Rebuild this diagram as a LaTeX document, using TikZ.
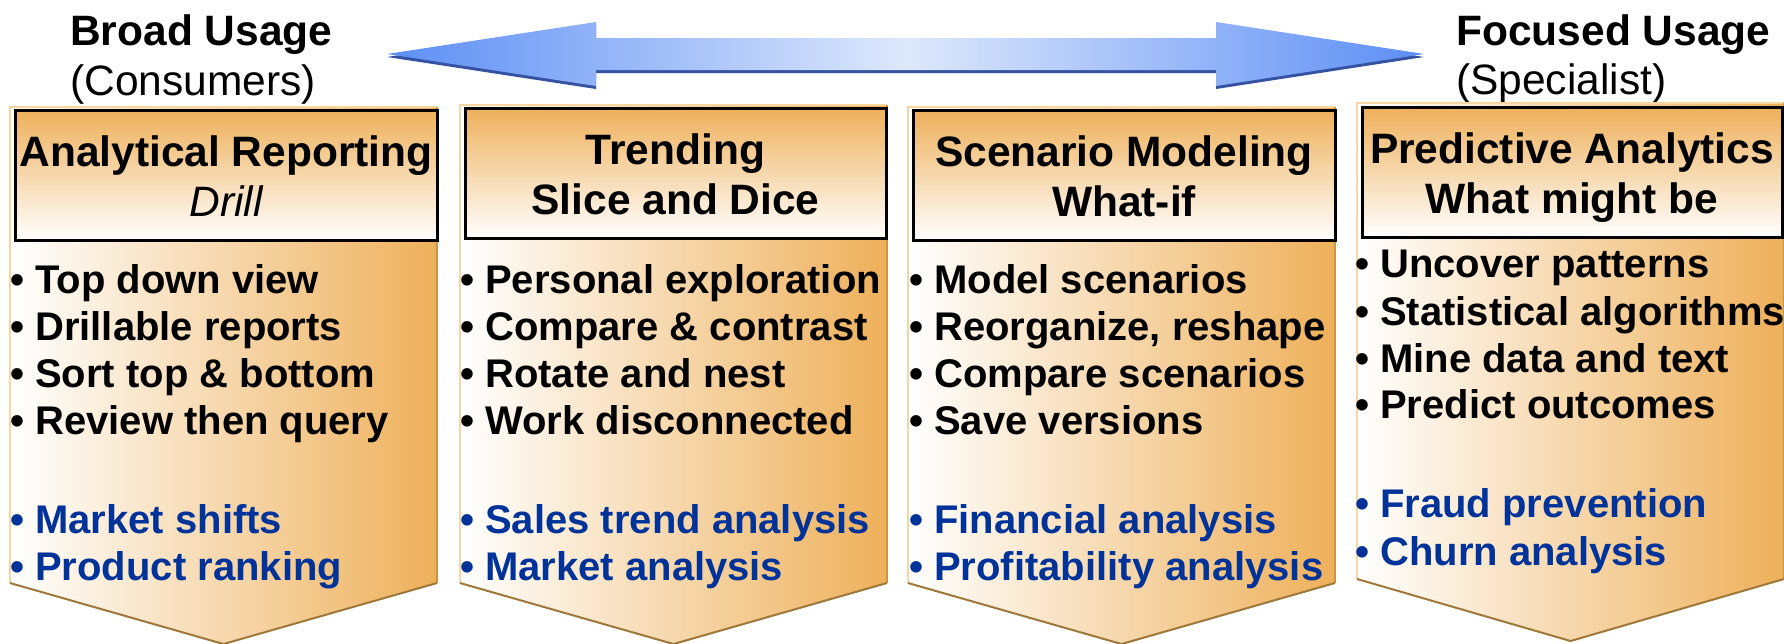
\documentclass[tikz,border=0pt]{standalone}
\usepackage{fontspec}
\setmainfont{Liberation Sans}
\definecolor{chor}{RGB}{238,176,90}
\definecolor{chlight}{RGB}{248,214,162}
\definecolor{chright}{RGB}{200,148,72}
\definecolor{chdark}{RGB}{158,120,58}
\definecolor{blu}{RGB}{0,51,153}
\definecolor{arB}{RGB}{92,142,245}
\definecolor{arL}{RGB}{222,232,252}
\definecolor{arD}{RGB}{52,82,160}
\tikzset{
  ttl/.style={anchor=base, font=\fontsize{42.5}{50}\selectfont\bfseries, inner sep=0pt},
  ttlit/.style={anchor=base, font=\fontsize{42.5}{50}\selectfont\itshape, inner sep=0pt},
  itm/.style={anchor=base west, font=\fontsize{40}{47}\selectfont\bfseries, inner sep=0pt},
  bitm/.style={itm, text=blu},
  hdr/.style={anchor=base west, font=\fontsize{42.5}{50}\selectfont\bfseries, inner sep=0pt},
  sub/.style={anchor=base west, font=\fontsize{42.5}{50}\selectfont, inner sep=0pt},
  tbox/.style={draw=black, line width=3pt, top color=chor, bottom color=white},
}
\newcommand\mkchev[4]{%
  \shade[left color=white, right color=chor] (#1,#2) -- ({#1+427},#2) -- ({#1+427},#3) -- ({#1+213.5},#4) -- (#1,#3) -- cycle;
  \draw[chlight, line width=2.5pt] (#1,#3) -- (#1,#2) -- ({#1+427},#2);
  \draw[chright, line width=2pt] ({#1+427},#2) -- ({#1+427},#3);
  \draw[chdark, line width=2pt, line join=round] ({#1+427},#3) -- ({#1+213.5},#4) -- (#1,#3);
}
\begin{document}
\begin{tikzpicture}[x=1pt,y=-1pt]
\useasboundingbox (0,0) rectangle (1784,643);

% double arrow
\fill[arD] (387,57) -- (596,25) -- (596,41) -- (1216,41) -- (1216,25) -- (1424,57)
  -- (1216,89) -- (1216,73) -- (596,73) -- (596,89) -- cycle;
\shade[left color=arB, right color=arB, middle color=arL] (387,54) -- (596,22) -- (596,38)
  -- (1216,38) -- (1216,22) -- (1424,54) -- (1216,86) -- (1216,70) -- (596,70) -- (596,86) -- cycle;

% headers
\node[hdr] (hBroad) at (70,45) {Broad Usage};
\node[sub] (hCons) at (70,95) {(Consumers)};
\node[hdr] (hFoc) at (1456,45) {Focused Usage};
\node[sub] (hSpec) at (1456,94) {(Specialist)};

% chevrons
\mkchev{10}{107}{583}{644}
\mkchev{460}{105}{583}{644}
\mkchev{908}{107}{583}{644}
\mkchev{1357}{103}{579}{641}

% title boxes
\draw[tbox] (15,110) rectangle (437,240);
\draw[tbox] (465,108) rectangle (886,238);
\draw[tbox] (913,110) rectangle (1335,240);
\draw[tbox] (1362,107) rectangle (1782,237);

% titles
\node[ttl] (t1a) at (226,166) {Analytical Reporting};
\node[ttlit] (t1b) at (226,216) {Drill};
\node[ttl] (t2a) at (675.5,164) {Trending};
\node[ttl] (t2b) at (675.5,214) {Slice and Dice};
\node[ttl] (t3a) at (1124,166) {Scenario Modeling};
\node[ttl] (t3b) at (1124,216) {What-if};
\node[ttl] (t4a) at (1572,163) {Predictive Analytics};
\node[ttl] (t4b) at (1572,213) {What might be};

% column 1
\node[itm] (a1) at (10,293) {• Top down view};
\node[itm] (a2) at (10,340) {• Drillable reports};
\node[itm] (a3) at (10,387) {• Sort top \& bottom};
\node[itm] (a4) at (10,434) {• Review then query};
\node[bitm] (a5) at (10,533) {• Market shifts};
\node[bitm] (a6) at (10,580) {• Product ranking};

% column 2
\node[itm] (b1) at (460,293) {• Personal exploration};
\node[itm] (b2) at (460,340) {• Compare \& contrast};
\node[itm] (b3) at (460,387) {• Rotate and nest};
\node[itm] (b4) at (460,434) {• Work disconnected};
\node[bitm] (b5) at (460,533) {• Sales trend analysis};
\node[bitm] (b6) at (460,580) {• Market analysis};

% column 3
\node[itm] (c1) at (909,293) {• Model scenarios};
\node[itm] (c2) at (909,340) {• Reorganize, reshape};
\node[itm] (c3) at (909,387) {• Compare scenarios};
\node[itm] (c4) at (909,434) {• Save versions};
\node[bitm] (c5) at (909,533) {• Financial analysis};
\node[bitm] (c6) at (909,580) {• Profitability analysis};

% column 4
\node[itm] (d1) at (1355,277) {• Uncover patterns};
\node[itm] (d2) at (1355,325) {• Statistical algorithms};
\node[itm] (d3) at (1355,372) {• Mine data and text};
\node[itm] (d4) at (1355,418) {• Predict outcomes};
\node[bitm] (d5) at (1355,517) {• Fraud prevention};
\node[bitm] (d6) at (1355,565) {• Churn analysis};
\end{tikzpicture}
\end{document}
